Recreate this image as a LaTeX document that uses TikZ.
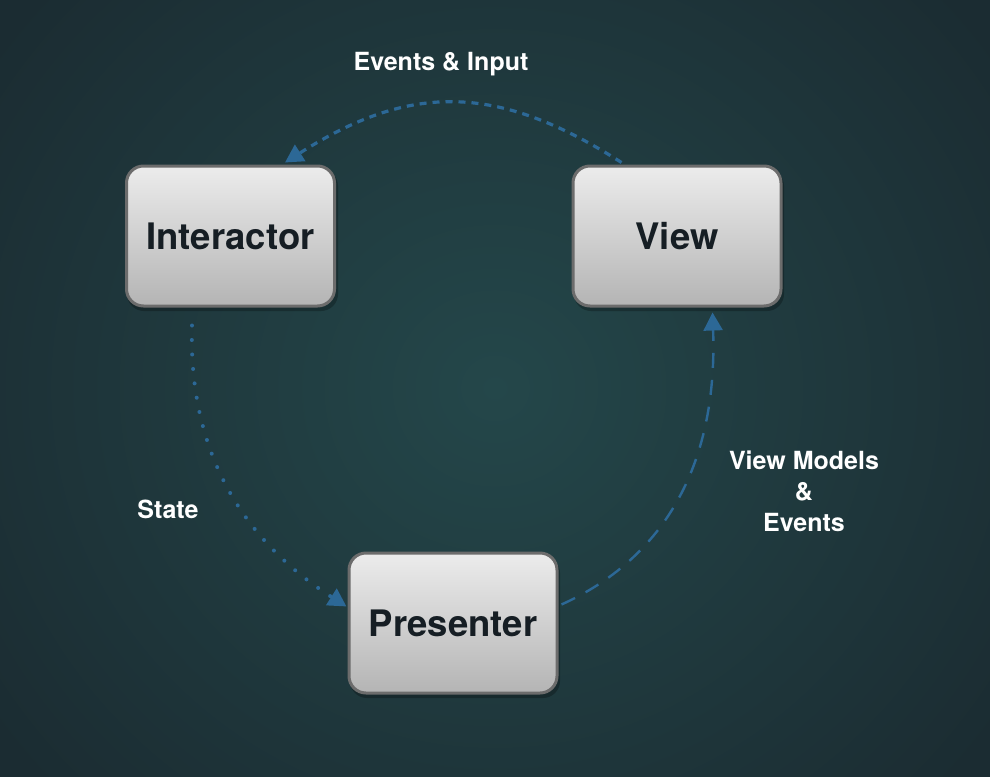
\documentclass[tikz,border=0pt]{standalone}
\usepackage{fontspec}
\setmainfont{TeX Gyre Heros}
\usetikzlibrary{arrows.meta,calc}
\definecolor{bginner}{RGB}{36,71,74}
\definecolor{bgouter}{RGB}{27,44,50}
\definecolor{boxtop}{RGB}{236,236,236}
\definecolor{boxbot}{RGB}{180,180,180}
\definecolor{boxline}{RGB}{108,108,108}
\definecolor{boxtext}{RGB}{22,30,36}
\definecolor{flow}{RGB}{44,104,150}
\tikzset{
  compbox/.style={draw=boxline, line width=3pt, rounded corners=17pt,
    top color=boxtop, bottom color=boxbot, minimum width=208pt, minimum height=140pt,
    inner sep=0pt, text=boxtext, font=\fontsize{36.5}{40}\selectfont\bfseries},
  lbl/.style={text=white, font=\fontsize{25}{31}\selectfont\bfseries, align=center, inner sep=0pt},
  flowtip/.style={-{Triangle[length=18pt,width=19pt]}},
  evline/.style={flow, line width=3.2pt, dash pattern=on 7pt off 6pt, flowtip},
  stline/.style={flow, line width=4pt, line cap=round, dash pattern=on 0pt off 14.5pt, flowtip},
  vmline/.style={flow, line width=2.4pt, dash pattern=on 15pt off 12pt, flowtip},
}
\begin{document}
\begin{tikzpicture}[x=1pt,y=-1pt]
\useasboundingbox (0,0) rectangle (990,776);
\shade[inner color=bginner, outer color=bgouter] (-120,-200) rectangle (1110,976);
% shadows
\fill[black, opacity=0.25, rounded corners=17pt] (127,169) rectangle (338,311);
\fill[black, opacity=0.25, rounded corners=17pt] (574,169) rectangle (784,311);
\fill[black, opacity=0.25, rounded corners=17pt] (350,556) rectangle (560,698);
\node[compbox] (inter) at (230.5,236) {Interactor};
\node[compbox] (view) at (677,236) {View};
\node[compbox] (pres) at (453,623) {Presenter};
\node[lbl] (l1) at (441,64) {Events \& Input};
\node[lbl] (l2) at (168,509) {State};
\node[lbl] (l3) at (804,491) {View Models\\\&\\Events};
% Events & Input
\draw[evline] ($(view.north west)+(50,-2)$) .. controls (497,83) and (410,83) .. ($(inter.north west)+(160,-2)$);
% State
\draw[stline] ($(inter.south west)+(67,18)$) .. controls (188,460) and (250,545) .. ($(pres.north west)+(-1,55)$);
% View Models & Events
\draw[vmline] ($(pres.north east)+(3,53)$) .. controls (660,560) and (718,470) .. ($(view.south west)+(141,5)$);
\end{tikzpicture}
\end{document}
